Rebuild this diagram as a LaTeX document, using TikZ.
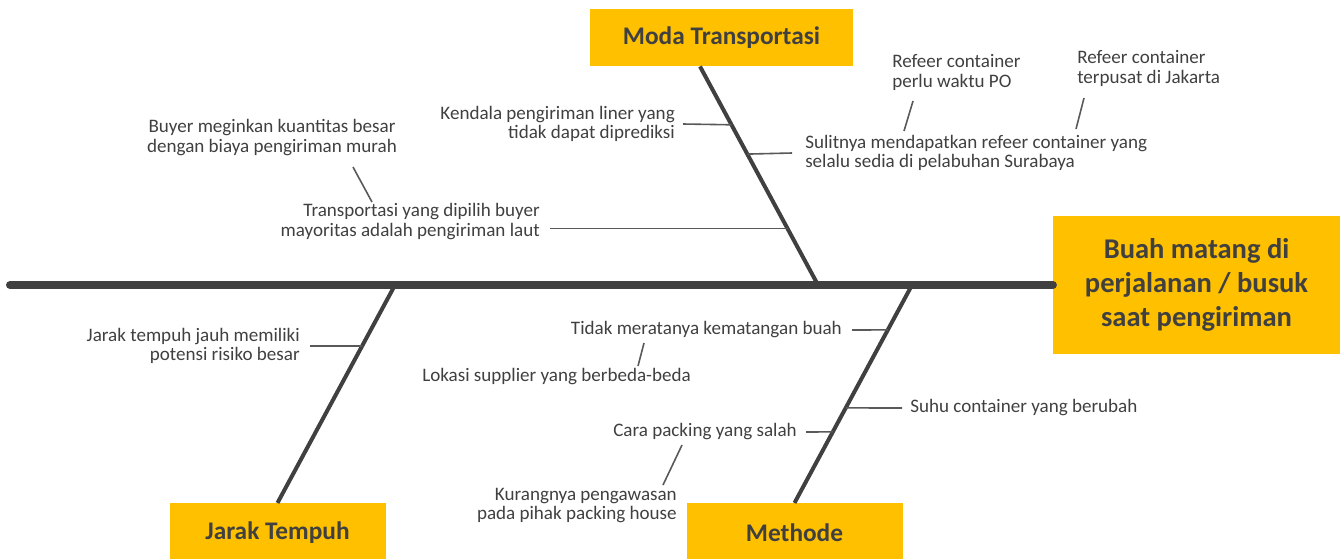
\documentclass[tikz,border=0pt]{standalone}
\usepackage{fontspec}
\setmainfont{Carlito}
\usetikzlibrary{calc}
\definecolor{boxyellow}{HTML}{FFC000}
\definecolor{inkgray}{HTML}{404040}
\definecolor{twiggray}{HTML}{595959}
\begin{document}
\begin{tikzpicture}[x=0.75pt,y=-0.75pt]
  \tikzstyle{catbox}=[fill=boxyellow,inner sep=0pt,text=inkgray,
    font=\fontsize{19}{23}\selectfont\bfseries,
    minimum width=162pt,minimum height=44pt]
  \tikzstyle{headbox}=[fill=boxyellow,inner sep=0pt,text=inkgray,align=center,
    font=\fontsize{21.4}{25.6}\selectfont\bfseries,
    minimum width=215pt,minimum height=103pt]
  \tikzstyle{cause}=[inner sep=0pt,text=inkgray,
    font=\fontsize{14.3}{14.6}\selectfont]
  \tikzstyle{spine}=[line width=6pt,draw=inkgray,line cap=round]
  \tikzstyle{bone}=[line width=3pt,draw=inkgray]
  \tikzstyle{twig}=[line width=1.2pt,draw=twiggray]

  \useasboundingbox (0,0) rectangle (1344,558);

  % head and categories
  \node[headbox] (head) at (1196.5,285)
    {Buah matang di\\perjalanan / busuk\\saat pengiriman};
  \node[catbox,minimum width=197pt,minimum height=43pt] (moda) at (721.5,37.5)
    {Moda Transportasi};
  \node[catbox] (jtbox) at (277.5,532.5) {Jarak Tempuh};
  \node[catbox] (methbox) at (794.5,532.5) {Methode};

  % spine and bones
  \coordinate (tail) at (10,285);
  \coordinate (spM) at (818,285);
  \coordinate (spJ) at (395,285);
  \coordinate (spH) at (912,285);
  \coordinate (modaA) at ($(moda.south)+(-21.5,0)$);
  \draw[spine] (tail) -- (head.west);
  \draw[bone] (modaA) -- (spM);
  \draw[bone] (spJ) -- (jtbox.north);
  \draw[bone] (spH) -- (methbox.north);

  % Moda Transportasi
  \node[cause,anchor=east,align=right] (kendala) at (675,124)
    {Kendala pengiriman liner yang\\tidak dapat diprediksi};
  \node[cause,anchor=west,align=left] (sulit) at (805,153)
    {Sulitnya mendapatkan refeer container yang\\selalu sedia di pelabuhan Surabaya};
  \node[cause,anchor=west,align=left] (refpo) at (892,72.5)
    {Refeer container\\perlu waktu PO};
  \node[cause,anchor=west,align=left] (refjkt) at (1077,68.5)
    {Refeer container\\terpusat di Jakarta};
  \node[cause,anchor=east,align=right] (transp) at (540,221.5)
    {Transportasi yang dipilih buyer\\mayoritas adalah pengiriman laut};
  \node[cause,align=center] (buyer) at (272,137.5)
    {Buyer meginkan kuantitas besar\\dengan biaya pengiriman murah};

  \draw[twig] ($(kendala.east)+(8,0)$) -- ($(modaA)!0.267!(spM)$);
  \draw[twig] ($(sulit.west)+(-13,0)$) -- ($(modaA)!0.401!(spM)$);
  \draw[twig] ($(modaA)!0.742!(spM)$) coordinate (bt)
    -- ([xshift=7.5pt]bt -| transp.east);
  \coordinate (poA) at (913,101);
  \coordinate (poB) at (904,131);
  \coordinate (jktA) at (1084,98);
  \coordinate (jktB) at (1076,129);
  \coordinate (buyA) at (353,167);
  \coordinate (buyB) at (372,202);
  \draw[twig] (poA) -- (poB);
  \draw[twig] (jktA) -- (jktB);
  \draw[twig] (buyA) -- (buyB);

  % Jarak Tempuh
  \node[cause,anchor=east,align=right] (jauh) at (300,346)
    {Jarak tempuh jauh memiliki\\potensi risiko besar};
  \draw[twig] ($(jauh.east)+(10,0)$) -- ($(spJ)!0.280!(jtbox.north)$);

  % Methode
  \node[cause,anchor=east] (tidak) at (842,330) {Tidak meratanya kematangan buah};
  \node[cause,anchor=west] (lokasi) at (422,377) {Lokasi supplier yang berbeda-beda};
  \node[cause,anchor=west] (suhu) at (910,408) {Suhu container yang berubah};
  \node[cause,anchor=east] (cara) at (797,432) {Cara packing yang salah};
  \node[cause,anchor=east,align=right] (kurang) at (677,505.5)
    {Kurangnya pengawasan\\pada pihak packing house};

  \draw[twig] ($(tidak.east)+(10,0)$) -- ($(spH)!0.206!(methbox.north)$);
  \draw[twig] ($(suhu.west)+(-8,0)$) -- ($(spH)!0.564!(methbox.north)$);
  \draw[twig] ($(cara.east)+(9,0)$) -- ($(spH)!0.674!(methbox.north)$);
  \coordinate (lokA) at (644,343);
  \coordinate (lokB) at (638,366);
  \coordinate (kurA) at (682,445);
  \coordinate (kurB) at (663,485);
  \draw[twig] (lokA) -- (lokB);
  \draw[twig] (kurA) -- (kurB);
\end{tikzpicture}
\end{document}
